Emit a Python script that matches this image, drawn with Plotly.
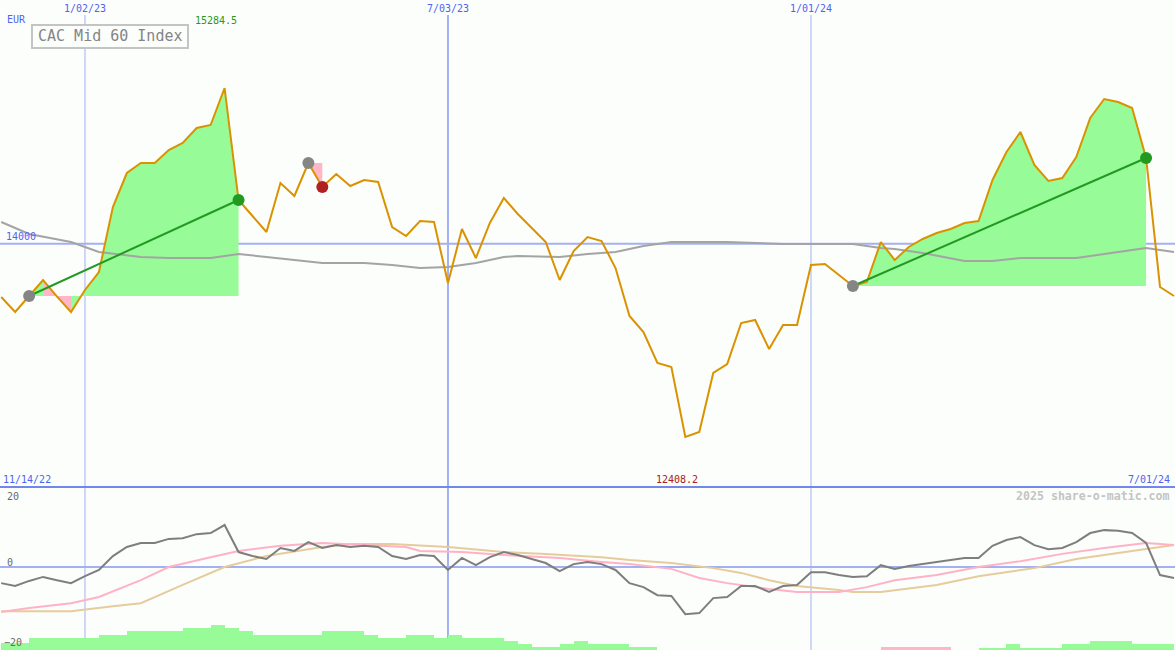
import pandas as pd
import plotly.graph_objects as go

# ---------------- data ----------------
START_DATE = "2022-11-21"
N_WEEKS = 85
FIRST_LABEL = "11/14/22"
CURRENCY = "EUR"
TITLE = "CAC Mid 60 Index"
WATERMARK = "2025 share-o-matic.com"

PRICE = [13562.0, 13438.4, 13570.3, 13702.1, 13565.0, 13438.4, 13619.7, 13768.1, 14303.8, 14584.0,
         14666.4, 14666.4, 14773.5, 14831.2, 14954.8, 14979.6, 15284.5, 14361.5, 14229.6, 14097.7,
         14501.6, 14394.4, 14666.4, 14468.6, 14575.7, 14476.8, 14526.3, 14509.8, 14138.9, 14064.8,
         14188.4, 14180.1, 13677.4, 14122.4, 13883.4, 14171.9, 14377.9, 14246.1, 14130.7, 14015.3,
         13702.1, 13941.1, 14056.5, 14023.6, 13801.0, 13405.4, 13273.6, 13018.1, 12985.1, 12408.2,
         12449.4, 12935.7, 13009.8, 13347.7, 13372.5, 13133.5, 13331.3, 13331.3, 13825.8, 13834.0,
         13743.3, 13652.7, 13685.6, 14015.3, 13867.0, 13974.1, 14040.0, 14089.5, 14122.4, 14171.9,
         14188.4, 14526.3, 14757.0, 14921.9, 14649.9, 14518.0, 14542.8, 14715.8, 15037.3, 15193.8,
         15169.1, 15119.7, 14707.6, 13644.4, 13570.3]

MA_IDX = [0, 2, 5, 7, 10, 12, 15, 17, 19, 21, 23, 26, 28, 30, 32, 34, 36, 37, 40, 42, 44, 46, 48,
          52, 55, 56, 61, 62, 63, 64, 66, 69, 71, 73, 77, 79, 82, 84]
MA_VAL = [14180, 14081, 14015, 13933, 13892, 13883, 13883, 13916, 13892, 13867, 13842, 13842, 13826,
          13801, 13809, 13842, 13892, 13900, 13892, 13916, 13933, 13982, 14015,
          14015, 14007, 13999, 13999, 13982, 13966, 13958, 13925, 13859, 13859, 13883, 13883, 13916,
          13966, 13933]

REF_LEVEL = 14000

# trades: (entry week index, exit week index)
TRADES = [(2, 17), (22, 23), (61, 82)]
PINK_SEGMENTS = {3, 4, 22}

# lower panel
MOM = [-4.4, -5.2, -3.8, -2.7, -3.6, -4.4, -2.5, -0.8, 3.0, 5.5,
       6.6, 6.6, 7.7, 7.9, 9.0, 9.3, 11.5, 4.1, 3.0, 2.2,
       5.2, 4.4, 6.8, 5.2, 6.0, 5.5, 5.8, 5.5, 3.0, 2.2,
       3.3, 3.0, -0.8, 2.5, 0.5, 2.7, 4.1, 3.3, 2.2, 1.1,
       -1.1, 0.8, 1.4, 0.8, -0.8, -4.4, -5.5, -7.7, -7.9, -12.9,
       -12.6, -8.5, -8.2, -5.2, -5.2, -6.8, -5.2, -4.9, -1.4, -1.4,
       -2.2, -2.7, -2.5, 0.5, -0.5, 0.3, 0.8, 1.4, 1.9, 2.5,
       2.5, 5.8, 7.4, 8.2, 6.0, 4.9, 5.2, 6.8, 9.3, 10.1,
       9.9, 9.3, 6.6, -2.2, -3.0]

SIG1_IDX = [0, 2, 5, 7, 10, 12, 15, 17, 20, 23, 26, 29, 30, 33, 36, 40, 43, 45, 48, 50, 52, 55,
            57, 60, 62, 64, 67, 70, 73, 76, 79, 82, 84]
SIG1_VAL = [-12.3, -11.2, -9.9, -8.2, -3.6, 0.0, 2.7, 4.4, 5.8, 6.6, 6.0, 5.5, 4.4, 4.1, 3.3, 2.5,
            1.4, 0.8, -0.5, -3.0, -4.4, -6.0, -6.8, -6.8, -5.5, -3.6, -2.2, 0.0, 1.6, 3.6, 5.2,
            6.6, 6.0]

SIG2_IDX = [0, 2, 5, 8, 10, 13, 16, 19, 23, 25, 28, 32, 36, 39, 43, 45, 48, 51, 53, 55, 57, 60,
            61, 63, 67, 70, 74, 77, 81, 84]
SIG2_VAL = [-12.1, -12.1, -12.1, -10.7, -9.9, -4.9, 0.0, 3.0, 5.5, 6.3, 6.3, 5.5, 4.1, 3.6, 2.7,
            1.9, 1.1, -0.3, -1.6, -3.6, -5.2, -6.3, -6.8, -6.8, -4.9, -2.5, -0.3, 2.2, 4.4, 6.0]

BARS = [1.9, 1.9, 3.3, 3.3, 3.3, 3.3, 3.3, 4.1, 4.1, 5.2,
        5.2, 5.2, 5.2, 6.0, 6.0, 6.8, 6.0, 5.2, 4.1, 4.1,
        4.1, 4.1, 4.1, 5.2, 5.2, 5.2, 4.1, 3.3, 3.3, 4.1,
        4.1, 3.3, 4.1, 3.3, 3.3, 3.3, 2.5, 1.6, 0.8, 0.8,
        1.6, 2.5, 1.6, 1.6, 1.6, 0.8, 0.8, 0, 0, 0,
        0, 0, 0, 0, 0, 0, 0, 0, 0, 0,
        0, 0, 0, -0.8, -0.8, -0.8, -0.8, -0.8, 0, 0,
        0.5, 0.5, 1.6, 0.5, 0.5, 0.5, 1.6, 1.6, 2.5, 2.5,
        2.5, 1.6, 1.6, 1.6]

GRID_DATES = ["2023-01-02", "2023-07-03", "2024-01-01"]
GRID_WIDTHS = [1, 2, 1]

# ---------------- styling ----------------
BG = "#FCFEFC"
BLUE_TXT = "#4F63F0"
GRID = "#A3B1F2"
SEP = "#7286EC"
ORANGE = "#DA9200"
FONT = "DejaVu Sans Mono"
W, H = 1175, 650
SPLIT = 163 / 650  # lower panel height fraction

dates = pd.date_range(START_DATE, periods=N_WEEKS, freq="7D")
x_lo = pd.Timestamp("2023-01-02") - pd.Timedelta(days=42.6)
x_hi = pd.Timestamp("2024-07-01") + pd.Timedelta(hours=12)

fig = go.Figure()

# trade fills
GREEN_FILL = "#97FB97"
PINK_FILL = "#FFB6C6"
for s, e in TRADES:
    base = PRICE[s]
    k = s
    while k < e:
        pink = k in PINK_SEGMENTS
        j = k
        while j + 1 < e and ((j + 1) in PINK_SEGMENTS) == pink:
            j += 1
        a, b = k, j + 1
        xs = list(dates[a:b + 1]) + [dates[b], dates[a]]
        ys = PRICE[a:b + 1] + [base, base]
        fig.add_trace(go.Scatter(x=xs, y=ys, mode="lines", fill="toself",
                                 fillcolor=PINK_FILL if pink else GREEN_FILL,
                                 line=dict(width=0, color="rgba(0,0,0,0)"),
                                 hoverinfo="skip", showlegend=False, yaxis="y"))
        k = j + 1

# moving average (main)
fig.add_trace(go.Scatter(x=[dates[i] for i in MA_IDX], y=MA_VAL, mode="lines",
                         line=dict(color="#A4A4A4", width=2), showlegend=False, yaxis="y"))
# price
fig.add_trace(go.Scatter(x=dates, y=PRICE, mode="lines",
                         line=dict(color=ORANGE, width=2), showlegend=False, yaxis="y"))
# trend lines + markers
for s, e in TRADES:
    win = PRICE[e] > PRICE[s]
    if win:
        fig.add_trace(go.Scatter(x=[dates[s], dates[e]], y=[PRICE[s], PRICE[e]], mode="lines",
                                 line=dict(color="#229A22", width=2), showlegend=False, yaxis="y"))
    fig.add_trace(go.Scatter(x=[dates[s]], y=[PRICE[s]], mode="markers",
                             marker=dict(size=12, color="#858585"), showlegend=False, yaxis="y"))
    fig.add_trace(go.Scatter(x=[dates[e]], y=[PRICE[e]], mode="markers",
                             marker=dict(size=12, color="#229A22" if win else "#B02222"),
                             showlegend=False, yaxis="y"))

# lower panel lines
fig.add_trace(go.Scatter(x=[dates[i] for i in SIG2_IDX], y=SIG2_VAL, mode="lines",
                         line=dict(color="#E6CC9C", width=2), showlegend=False, yaxis="y2"))
fig.add_trace(go.Scatter(x=[dates[i] for i in SIG1_IDX], y=SIG1_VAL, mode="lines",
                         line=dict(color="#FFB2C6", width=2), showlegend=False, yaxis="y2"))
fig.add_trace(go.Scatter(x=dates, y=MOM, mode="lines",
                         line=dict(color="#7E7E7E", width=2), showlegend=False, yaxis="y2"))
# lower bars
bar_x = [d + pd.Timedelta(days=3.5) for d in dates[:len(BARS)]]
fig.add_trace(go.Bar(x=bar_x, y=[abs(v) for v in BARS],
                     width=7 * 86400000,
                     marker=dict(color=["#FFB6C6" if v < 0 else "#97FB97" for v in BARS],
                                 line=dict(width=0)),
                     showlegend=False, yaxis="y3"))

# ranges derived from label positions
main_lo, main_hi = 11996.1, 16009.8
low_lo, low_hi = -22.7, 21.9

shapes = []
for gd, gw in zip(GRID_DATES, GRID_WIDTHS):
    shapes.append(dict(type="line", xref="x", yref="paper", x0=gd, x1=gd, y0=0, y1=1 - 15 / H,
                       line=dict(color=GRID, width=gw), layer="below"))
shapes.append(dict(type="line", xref="paper", yref="y", x0=0, x1=1, y0=REF_LEVEL, y1=REF_LEVEL,
                   line=dict(color=GRID, width=2), layer="below"))
shapes.append(dict(type="line", xref="paper", yref="y2", x0=0, x1=1, y0=0, y1=0,
                   line=dict(color=GRID, width=2), layer="below"))
shapes.append(dict(type="line", xref="paper", yref="paper", x0=0, x1=1, y0=SPLIT, y1=SPLIT,
                   line=dict(color=SEP, width=2)))
shapes.append(dict(type="rect", xref="paper", yref="paper", x0=32 / W, x1=188 / W,
                   y0=1 - 48 / H, y1=1 - 25 / H, line=dict(color="#C4C4C4", width=2),
                   fillcolor=BG))


def fmt(d):
    d = pd.Timestamp(d)
    return f"{d.month}/{d.day:02d}/{d.year % 100:02d}"


def ann(text, x, y, color, size=10, xanchor="left", xref="paper", bold=False, xshift=0):
    return dict(text=f"<b>{text}</b>" if bold else text, x=x, y=1 - y / H, xref=xref, yref="paper",
                xanchor=xanchor, yanchor="middle", showarrow=False, xshift=xshift,
                font=dict(family=FONT, size=size, color=color))


anns = []
for gd in GRID_DATES:
    anns.append(ann(fmt(gd), gd, 8, BLUE_TXT, xanchor="center", xref="x"))
anns.append(ann(CURRENCY, 5 / W, 19, BLUE_TXT))
imax = PRICE.index(max(PRICE))
imin = PRICE.index(min(PRICE))
anns.append(ann(f"{max(PRICE):.1f}", dates[imax], 20, "#229A22", xanchor="right", xref="x", xshift=14))
anns.append(ann(f"{min(PRICE):.1f}", dates[imin], 479, "#A02222", xanchor="center", xref="x", xshift=-8))
anns.append(ann(TITLE, 110 / W, 36.5, "#858585", size=15, xanchor="center"))
anns.append(ann(f"{REF_LEVEL}", 4 / W, 237, BLUE_TXT))
anns.append(ann(FIRST_LABEL, 1 / W, 479, BLUE_TXT))
anns.append(ann(fmt(dates[-1]), 1 - 3 / W, 479, BLUE_TXT, xanchor="right"))
anns.append(ann(WATERMARK, 1 - 3 / W, 496, "#C4C4C4", size=11.6, xanchor="right", bold=True))
anns.append(ann("20", 5 / W, 496, "#6A6A6A"))
anns.append(ann("0", 5 / W, 562, "#6A6A6A"))
anns.append(ann("\u221220", 2 / W, 642, "#6A6A6A"))

fig.update_layout(
    width=W, height=H, margin=dict(l=0, r=0, t=0, b=0),
    paper_bgcolor=BG, plot_bgcolor=BG, showlegend=False, bargap=0, hovermode=False,
    xaxis=dict(type="date", range=[x_lo, x_hi], visible=False, domain=[0, 1]),
    yaxis=dict(domain=[SPLIT, 1], range=[main_lo, main_hi], visible=False),
    yaxis2=dict(domain=[0, SPLIT], range=[low_lo, low_hi], visible=False),
    yaxis3=dict(overlaying="y2", range=[0, low_hi - low_lo], visible=False),
    shapes=shapes, annotations=anns,
)

fig.write_html("out.html", config={"displayModeBar": False, "staticPlot": True},
               post_script="document.body.style.margin='0';document.body.style.overflow='hidden';")
